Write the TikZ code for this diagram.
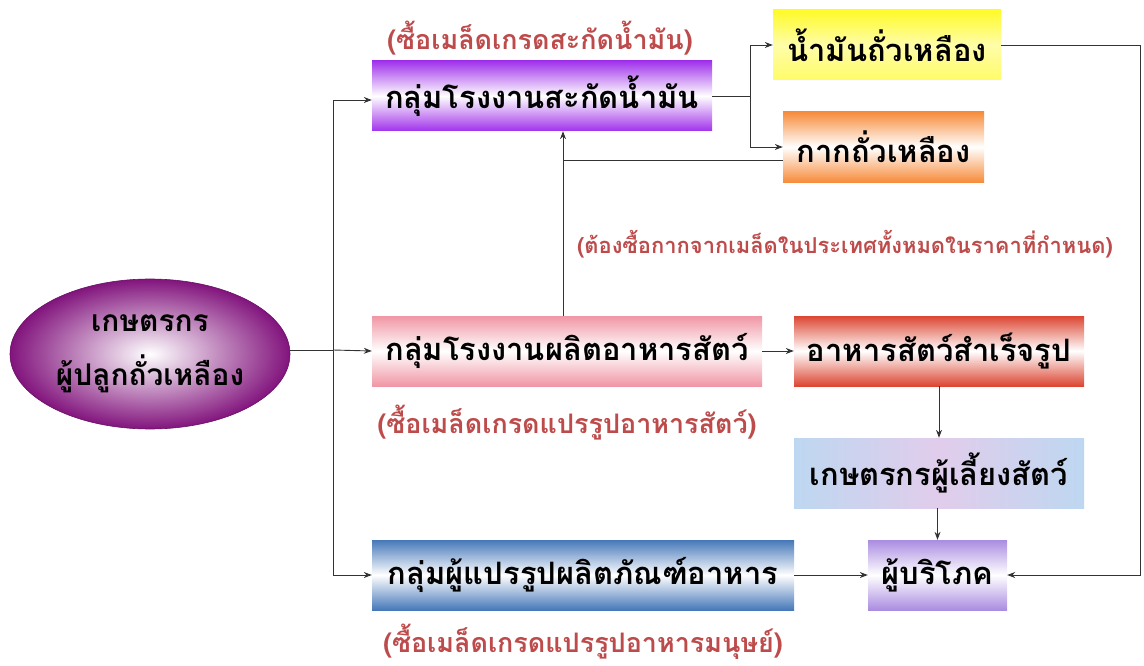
\documentclass[tikz,border=0pt]{standalone}
\usepackage{fontspec}
\newfontfamily\thai[Script=Thai]{Loma}
\usetikzlibrary{arrows.meta,shapes.geometric}
\definecolor{lbl}{RGB}{190,75,75}
\definecolor{vio}{RGB}{160,50,235}
\definecolor{yel}{RGB}{255,250,40}
\definecolor{org}{RGB}{247,140,60}
\definecolor{pnk}{RGB}{240,150,165}
\definecolor{rdd}{RGB}{220,70,50}
\definecolor{blu}{RGB}{70,120,185}
\definecolor{lav}{RGB}{170,140,225}
\definecolor{lbb}{RGB}{190,215,240}
\definecolor{lbp}{RGB}{225,205,235}
\definecolor{plum}{RGB}{130,20,125}
\tikzset{
  box/.style={rectangle, inner sep=0pt, minimum height=70bp, font=\thai\bfseries\fontsize{31}{36}\selectfont, text=black},
  lab/.style={font=\thai\bfseries\fontsize{27}{30}\selectfont, text=lbl, inner sep=0pt},
  conn/.style={draw=black!80, line width=0.9pt},
  arr/.style={conn, -{Stealth[length=8pt,width=6pt]}}
}
\begin{document}
\begin{tikzpicture}[x=1bp,y=-1bp]
\useasboundingbox (0,0) rectangle (1144,666);
% nodes
\node[ellipse, minimum width=280bp, minimum height=150bp, inner sep=0pt, inner color=white, outer color=plum,
      draw=plum!80!black, line width=0.6pt,
      font=\thai\bfseries\fontsize{30}{54}\selectfont, align=center] (farmer) at (150,354)
      {เกษตรกร\\ผู้ปลูกถั่วเหลือง};
\node[box, minimum width=340bp, top color=vio, bottom color=vio, middle color=white] (oil) at (542,96) {กลุ่มโรงงานสะกัดน้ำมัน};
\node[box, minimum width=228bp, top color=yel, bottom color=yel!70, middle color=white!60!yel] (soyoil) at (887,45) {น้ำมันถั่วเหลือง};
\node[box, minimum width=201bp, top color=org, bottom color=org, middle color=white] (meal) at (883.5,147) {กากถั่วเหลือง};
\node[box, minimum width=390bp, top color=pnk, bottom color=pnk, middle color=white] (feed) at (567,351) {กลุ่มโรงงานผลิตอาหารสัตว์};
\node[box, minimum width=290bp, top color=rdd, bottom color=rdd, middle color=white] (ready) at (939,351) {อาหารสัตว์สำเร็จรูป};
\node[box, minimum width=290bp, left color=lbb, right color=lbb, middle color=lbp] (raiser) at (939,473) {เกษตรกรผู้เลี้ยงสัตว์};
\node[box, minimum width=139bp, top color=lav, bottom color=lav, middle color=white] (cons) at (937.5,575) {ผู้บริโภค};
\node[box, minimum width=422bp, top color=blu, bottom color=blu, middle color=white] (proc) at (583,575) {กลุ่มผู้แปรรูปผลิตภัณฑ์อาหาร};
% labels
\node[lab] (l1) at (540,38) {(ซื้อเมล็ดเกรดสะกัดน้ำมัน)};
\node[lab] (l2) at (567,423) {(ซื้อเมล็ดเกรดแปรรูปอาหารสัตว์)};
\node[lab] (l3) at (583,642) {(ซื้อเมล็ดเกรดแปรรูปอาหารมนุษย์)};
\node[lab, font=\thai\bfseries\fontsize{22}{26}\selectfont] (l4) at (845,244) {(ต้องซื้อกากจากเมล็ดในประเทศทั้งหมดในราคาที่กำหนด)};
% coordinates
\coordinate (j1) at (333,350);
\coordinate (j2) at (750,96);
\coordinate (c1) at (563,160);
\coordinate (c2) at (1140,0);
% connectors
\draw[conn] (farmer.east |- j1) -- (j1);
\draw[arr] (j1) |- ([yshift=-4bp]oil.west);
\draw[arr] (j1) -- (feed.west);
\draw[arr] (j1) |- (proc.west);
\draw[conn] (oil.east) -- (j2);
\draw[arr] (j2) |- (soyoil.west);
\draw[arr] (j2) |- (meal.west);
\draw[conn] (meal.west |- c1) -- (c1);
\draw[arr] (feed.north -| c1) -- (oil.south -| c1);
\draw[arr] (feed.east) -- (ready.west);
\draw[arr] (ready.south) -- (raiser.north);
\draw[arr] (raiser.south -| cons.north) -- (cons.north);
\draw[arr] (proc.east) -- (cons.west);
\draw[arr] (soyoil.east) -| (c2 |- cons.east) -- (cons.east);
\end{tikzpicture}
\end{document}
